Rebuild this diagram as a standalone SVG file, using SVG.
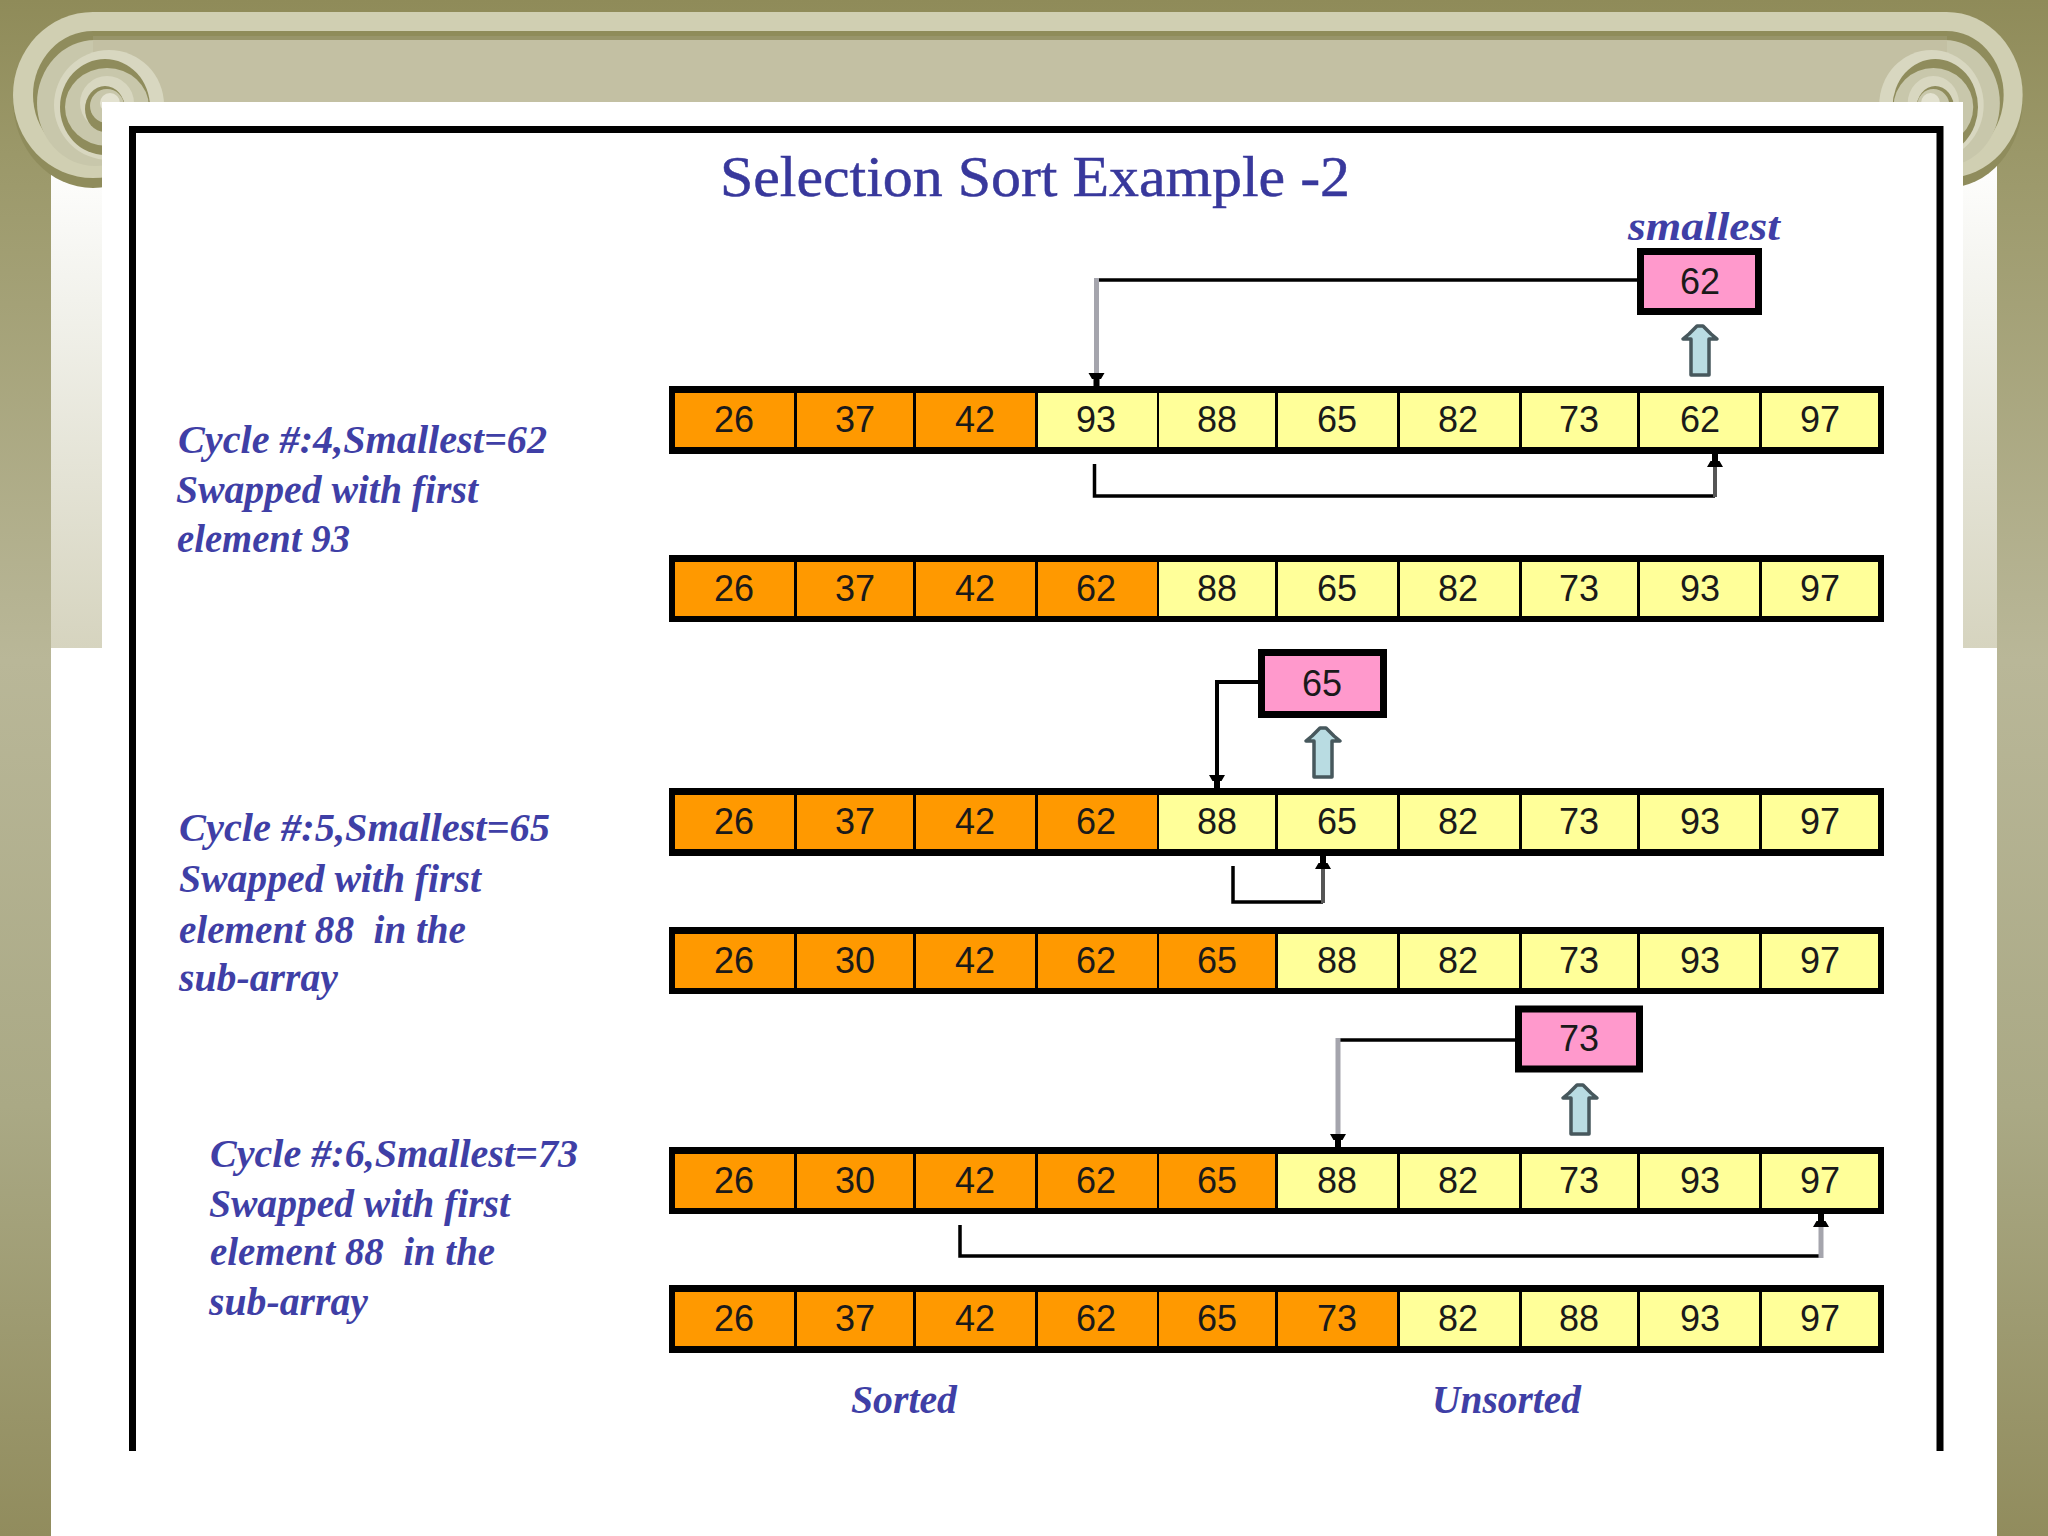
<svg xmlns="http://www.w3.org/2000/svg" xmlns:xlink="http://www.w3.org/1999/xlink" width="2048" height="1536" viewBox="0 0 2048 1536">
<style>
.bar{fill:#000}
.o{fill:#ff9900}
.y{fill:#ffff99}
.p{fill:#ff99cc;stroke:#000;stroke-width:7}
.n{font-family:"Liberation Sans",Arial,sans-serif;font-size:36px;fill:#1a1a1a;text-anchor:middle}
.t{font-family:"Liberation Serif","Times New Roman",serif;fill:#38389c;stroke:#38389c;stroke-width:.5}
.i{font-family:"Liberation Serif","Times New Roman",serif;font-style:italic;font-size:40px;fill:#3f3fa6;font-weight:bold}
.l{fill:none;stroke:#000;stroke-width:3.5}
.g{fill:none;stroke:#a5a5ad;stroke-width:5}
.d{fill:none;stroke:#555;stroke-width:4}
.k{fill:none;stroke:#000;stroke-width:4}
.up{fill:#b9dce2;stroke:#47585d;stroke-width:3.500;stroke-linejoin:round}
.dk{fill:#8f8c5c}.lt{fill:#d8d7c0}.md{fill:#c8c7ab}.ol{fill:#d0cfb2}
</style>
<defs>
<linearGradient id="bgG" x1="0" y1="0" x2="0" y2="1">
<stop offset="0" stop-color="#8f8b59"/><stop offset=".1" stop-color="#9b9869"/><stop offset=".43" stop-color="#b9b798"/><stop offset=".72" stop-color="#aaa985"/><stop offset="1" stop-color="#918c5d"/>
</linearGradient>
<linearGradient id="colG" x1="0" y1="0" x2="0" y2="1">
<stop offset="0" stop-color="#ffffff"/><stop offset=".3" stop-color="#f2f2ec"/><stop offset="1" stop-color="#d6d4bf"/>
</linearGradient>
<marker id="ah" markerUnits="userSpaceOnUse" markerWidth="20" markerHeight="20" refX="13" refY="10" orient="auto">
<path d="M0,2 L0,18 L6,14.500 L6,13 L13,13 L13,7 L6,7 L6,5.500 Z" fill="#000"/>
</marker>
<g id="scrollOuter">
<ellipse class="dk" cx="93" cy="100" rx="80" ry="88"/>
<ellipse class="ol" cx="93" cy="95" rx="80" ry="83"/>
<ellipse class="dk" cx="93" cy="95" rx="60" ry="64"/>
<ellipse class="md" cx="95" cy="103" rx="58" ry="63"/>
</g>
<g id="scrollInner">
<circle class="lt" cx="109" cy="105" r="55"/>
<ellipse class="dk" cx="105" cy="107" rx="45" ry="48"/>
<ellipse class="md" cx="107" cy="107" rx="42" ry="39"/>
<circle class="lt" cx="107" cy="103" r="27"/>
<ellipse class="dk" cx="105" cy="109" rx="20" ry="23"/>
<ellipse class="md" cx="107" cy="106" rx="17" ry="17"/>
<circle fill="#e3e2d0" cx="110" cy="103" r="10"/>
</g>
<path id="blk" d="M-3,0 L3,0 L11,8 L17,13 L9,13 L9,49 L-9,49 L-9,13 L-17,13 L-11,8 Z"/>
</defs>

<g id="background">
<rect width="2048" height="1536" fill="url(#bgG)"/>
<rect x="51" y="150" width="1946" height="498" fill="url(#colG)"/>
<rect x="51" y="648" width="1946" height="888" fill="#fff"/>
<use href="#scrollOuter"/>
<use href="#scrollOuter" transform="matrix(-0.95 0 0 1 2035 0)"/>
<rect x="93" y="12" width="1854" height="19" fill="#d0cfb2"/>
<rect x="93" y="31" width="1854" height="5" fill="#8f8c5a"/>
<rect x="93" y="36" width="1854" height="4" fill="#98956a"/>
<rect x="93" y="40" width="1854" height="62" fill="#c3c0a3"/>
<use href="#scrollInner"/>
<use href="#scrollInner" transform="matrix(-0.95 0 0 1 2035 0)"/>
<rect x="102" y="102" width="1861" height="1434" fill="#fff"/>
<path d="M132.500,1451 V129.500 H1940 V1451" fill="none" stroke="#000" stroke-width="7"/>
</g>

<g id="title"><text class="t" x="720" y="196" font-size="58" textLength="630" lengthAdjust="spacingAndGlyphs">Selection Sort Example -2</text></g>

<g id="cycle4-label">
<text class="i" x="178" y="453" textLength="369" lengthAdjust="spacingAndGlyphs">Cycle #:4,Smallest=62</text>
<text class="i" x="176" y="503" textLength="302" lengthAdjust="spacingAndGlyphs">Swapped with first</text>
<text class="i" x="177" y="552" textLength="173" lengthAdjust="spacingAndGlyphs">element 93</text>
</g>
<g id="cycle5-label">
<text class="i" x="179" y="841" textLength="371" lengthAdjust="spacingAndGlyphs">Cycle #:5,Smallest=65</text>
<text class="i" x="179" y="892" textLength="302" lengthAdjust="spacingAndGlyphs">Swapped with first</text>
<text class="i" x="179" y="943" textLength="287" lengthAdjust="spacingAndGlyphs" xml:space="preserve">element 88  in the</text>
<text class="i" x="179" y="991" textLength="159" lengthAdjust="spacingAndGlyphs">sub-array</text>
</g>
<g id="cycle6-label">
<text class="i" x="210" y="1167" textLength="368" lengthAdjust="spacingAndGlyphs">Cycle #:6,Smallest=73</text>
<text class="i" x="209" y="1217" textLength="301" lengthAdjust="spacingAndGlyphs">Swapped with first</text>
<text class="i" x="210" y="1265" textLength="285" lengthAdjust="spacingAndGlyphs" xml:space="preserve">element 88  in the</text>
<text class="i" x="209" y="1315" textLength="159" lengthAdjust="spacingAndGlyphs">sub-array</text>
</g>
<g id="label-smallest"><text class="i" x="1628" y="240" textLength="152" lengthAdjust="spacingAndGlyphs">smallest</text></g>
<g id="label-sorted"><text class="i" x="851" y="1413" textLength="106" lengthAdjust="spacingAndGlyphs">Sorted</text></g>
<g id="label-unsorted"><text class="i" x="1432" y="1413" textLength="149" lengthAdjust="spacingAndGlyphs">Unsorted</text></g>

<g id="row1">
<rect class="bar" x="669" y="386" width="1215" height="68"/>
<rect class="o" x="675" y="393" width="119" height="54"/><text class="n" x="734" y="432">26</text>
<rect class="o" x="797" y="393" width="116" height="54"/><text class="n" x="855" y="432">37</text>
<rect class="o" x="916" y="393" width="119" height="54"/><text class="n" x="975" y="432">42</text>
<rect class="y" x="1038" y="393" width="119" height="54"/><text class="n" x="1096" y="432">93</text>
<rect class="y" x="1159" y="393" width="116" height="54"/><text class="n" x="1217" y="432">88</text>
<rect class="y" x="1278" y="393" width="119" height="54"/><text class="n" x="1337" y="432">65</text>
<rect class="y" x="1400" y="393" width="119" height="54"/><text class="n" x="1458" y="432">82</text>
<rect class="y" x="1522" y="393" width="115" height="54"/><text class="n" x="1579" y="432">73</text>
<rect class="y" x="1640" y="393" width="119" height="54"/><text class="n" x="1700" y="432">62</text>
<rect class="y" x="1762" y="393" width="116" height="54"/><text class="n" x="1820" y="432">97</text>
</g>
<g id="row2">
<rect class="bar" x="669" y="555" width="1215" height="67"/>
<rect class="o" x="675" y="562" width="119" height="54"/><text class="n" x="734" y="601">26</text>
<rect class="o" x="797" y="562" width="116" height="54"/><text class="n" x="855" y="601">37</text>
<rect class="o" x="916" y="562" width="119" height="54"/><text class="n" x="975" y="601">42</text>
<rect class="o" x="1038" y="562" width="119" height="54"/><text class="n" x="1096" y="601">62</text>
<rect class="y" x="1159" y="562" width="116" height="54"/><text class="n" x="1217" y="601">88</text>
<rect class="y" x="1278" y="562" width="119" height="54"/><text class="n" x="1337" y="601">65</text>
<rect class="y" x="1400" y="562" width="119" height="54"/><text class="n" x="1458" y="601">82</text>
<rect class="y" x="1522" y="562" width="115" height="54"/><text class="n" x="1579" y="601">73</text>
<rect class="y" x="1640" y="562" width="119" height="54"/><text class="n" x="1700" y="601">93</text>
<rect class="y" x="1762" y="562" width="116" height="54"/><text class="n" x="1820" y="601">97</text>
</g>
<g id="row3">
<rect class="bar" x="669" y="788" width="1215" height="68"/>
<rect class="o" x="675" y="795" width="119" height="54"/><text class="n" x="734" y="834">26</text>
<rect class="o" x="797" y="795" width="116" height="54"/><text class="n" x="855" y="834">37</text>
<rect class="o" x="916" y="795" width="119" height="54"/><text class="n" x="975" y="834">42</text>
<rect class="o" x="1038" y="795" width="119" height="54"/><text class="n" x="1096" y="834">62</text>
<rect class="y" x="1159" y="795" width="116" height="54"/><text class="n" x="1217" y="834">88</text>
<rect class="y" x="1278" y="795" width="119" height="54"/><text class="n" x="1337" y="834">65</text>
<rect class="y" x="1400" y="795" width="119" height="54"/><text class="n" x="1458" y="834">82</text>
<rect class="y" x="1522" y="795" width="115" height="54"/><text class="n" x="1579" y="834">73</text>
<rect class="y" x="1640" y="795" width="119" height="54"/><text class="n" x="1700" y="834">93</text>
<rect class="y" x="1762" y="795" width="116" height="54"/><text class="n" x="1820" y="834">97</text>
</g>
<g id="row4">
<rect class="bar" x="669" y="927" width="1215" height="67"/>
<rect class="o" x="675" y="934" width="119" height="54"/><text class="n" x="734" y="973">26</text>
<rect class="o" x="797" y="934" width="116" height="54"/><text class="n" x="855" y="973">30</text>
<rect class="o" x="916" y="934" width="119" height="54"/><text class="n" x="975" y="973">42</text>
<rect class="o" x="1038" y="934" width="119" height="54"/><text class="n" x="1096" y="973">62</text>
<rect class="o" x="1159" y="934" width="116" height="54"/><text class="n" x="1217" y="973">65</text>
<rect class="y" x="1278" y="934" width="119" height="54"/><text class="n" x="1337" y="973">88</text>
<rect class="y" x="1400" y="934" width="119" height="54"/><text class="n" x="1458" y="973">82</text>
<rect class="y" x="1522" y="934" width="115" height="54"/><text class="n" x="1579" y="973">73</text>
<rect class="y" x="1640" y="934" width="119" height="54"/><text class="n" x="1700" y="973">93</text>
<rect class="y" x="1762" y="934" width="116" height="54"/><text class="n" x="1820" y="973">97</text>
</g>
<g id="row5">
<rect class="bar" x="669" y="1147" width="1215" height="67"/>
<rect class="o" x="675" y="1154" width="119" height="54"/><text class="n" x="734" y="1193">26</text>
<rect class="o" x="797" y="1154" width="116" height="54"/><text class="n" x="855" y="1193">30</text>
<rect class="o" x="916" y="1154" width="119" height="54"/><text class="n" x="975" y="1193">42</text>
<rect class="o" x="1038" y="1154" width="119" height="54"/><text class="n" x="1096" y="1193">62</text>
<rect class="o" x="1159" y="1154" width="116" height="54"/><text class="n" x="1217" y="1193">65</text>
<rect class="y" x="1278" y="1154" width="119" height="54"/><text class="n" x="1337" y="1193">88</text>
<rect class="y" x="1400" y="1154" width="119" height="54"/><text class="n" x="1458" y="1193">82</text>
<rect class="y" x="1522" y="1154" width="115" height="54"/><text class="n" x="1579" y="1193">73</text>
<rect class="y" x="1640" y="1154" width="119" height="54"/><text class="n" x="1700" y="1193">93</text>
<rect class="y" x="1762" y="1154" width="116" height="54"/><text class="n" x="1820" y="1193">97</text>
</g>
<g id="row6">
<rect class="bar" x="669" y="1285" width="1215" height="68"/>
<rect class="o" x="675" y="1292" width="119" height="54"/><text class="n" x="734" y="1331">26</text>
<rect class="o" x="797" y="1292" width="116" height="54"/><text class="n" x="855" y="1331">37</text>
<rect class="o" x="916" y="1292" width="119" height="54"/><text class="n" x="975" y="1331">42</text>
<rect class="o" x="1038" y="1292" width="119" height="54"/><text class="n" x="1096" y="1331">62</text>
<rect class="o" x="1159" y="1292" width="116" height="54"/><text class="n" x="1217" y="1331">65</text>
<rect class="o" x="1278" y="1292" width="119" height="54"/><text class="n" x="1337" y="1331">73</text>
<rect class="y" x="1400" y="1292" width="119" height="54"/><text class="n" x="1458" y="1331">82</text>
<rect class="y" x="1522" y="1292" width="115" height="54"/><text class="n" x="1579" y="1331">88</text>
<rect class="y" x="1640" y="1292" width="119" height="54"/><text class="n" x="1700" y="1331">93</text>
<rect class="y" x="1762" y="1292" width="116" height="54"/><text class="n" x="1820" y="1331">97</text>
</g>

<g id="smallest-62"><rect class="p" x="1640.500" y="251.500" width="118" height="60"/><text class="n" x="1700" y="294">62</text></g>
<g id="smallest-65"><rect class="p" x="1261.500" y="652.500" width="122" height="62"/><text class="n" x="1322" y="696">65</text></g>
<g id="smallest-73"><rect class="p" x="1518.500" y="1009" width="121" height="60"/><text class="n" x="1579" y="1051">73</text></g>

<g id="pointer-62"><use href="#blk" class="up" x="1700" y="326"/></g>
<g id="pointer-65"><use href="#blk" class="up" x="1323" y="728"/></g>
<g id="pointer-73"><use href="#blk" class="up" x="1580" y="1085"/></g>

<g id="connectors">
<path class="l" d="M1637,280 H1095"/>
<path class="g" d="M1096.500,278 V386" marker-end="url(#ah)"/>
<path class="l" d="M1094.500,464 V496 H1715"/>
<path class="d" d="M1715,497 V454" marker-end="url(#ah)"/>
<path class="k" d="M1258,682 H1217 V788" marker-end="url(#ah)"/>
<path class="l" d="M1233,866 V902 H1323"/>
<path class="d" d="M1323,903 V856" marker-end="url(#ah)"/>
<path class="l" d="M1515,1040 H1336"/>
<path class="g" d="M1338,1038 V1147" marker-end="url(#ah)"/>
<path class="l" d="M960,1225 V1256 H1820"/>
<path class="g" d="M1821,1258 V1214" marker-end="url(#ah)"/>
</g>
</svg>
